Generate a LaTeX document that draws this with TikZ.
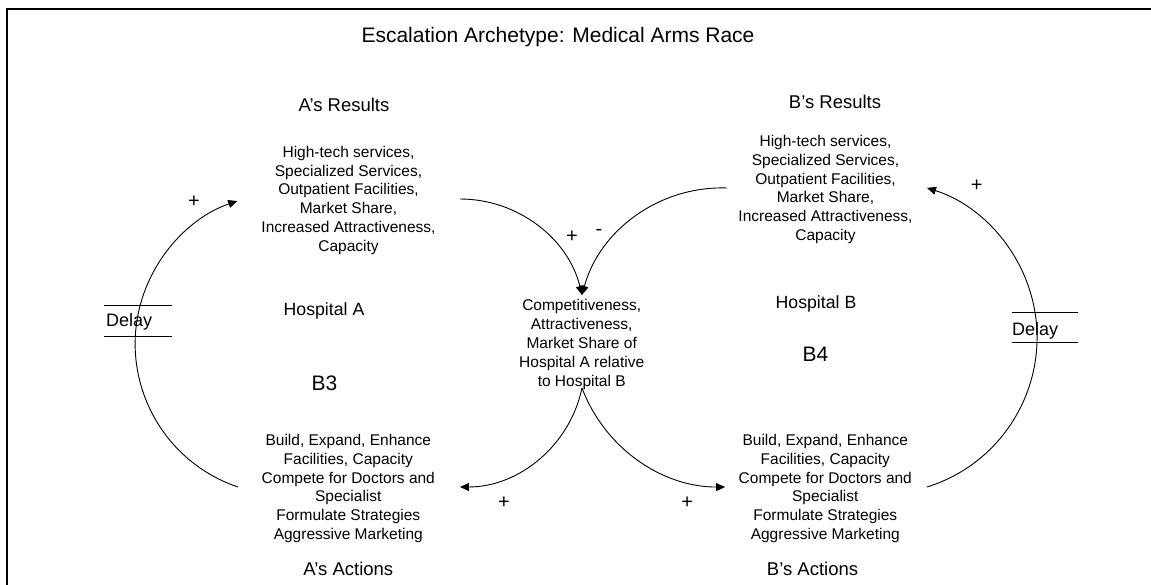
\documentclass[tikz,border=0pt]{standalone}
\usepackage{fontspec}
\setmainfont{Liberation Sans}
\usetikzlibrary{arrows.meta}

\tikzset{
  body/.style={inner sep=0pt, align=center, font=\fontsize{15.5}{18.8}\selectfont},
  head/.style={inner sep=0pt, anchor=base, font=\fontsize{18.5}{22}\selectfont},
  hosp/.style={inner sep=0pt, anchor=base, font=\fontsize{17.7}{21}\selectfont},
  loopid/.style={inner sep=0pt, anchor=base, font=\fontsize{21}{25}\selectfont},
  sign/.style={inner sep=0pt, font=\fontsize{20}{24}\selectfont},
  delaytxt/.style={inner sep=0pt, anchor=base west, font=\fontsize{18}{21}\selectfont},
  link/.style={line width=0.9pt, -{Triangle[length=9pt,width=8pt]}},
  thin/.style={line width=0.9pt},
  frame/.style={line width=2pt},
}

\begin{document}
\begin{tikzpicture}[x=1pt, y=-1pt]
  \useasboundingbox (0,0) rectangle (1151,585);

  % outer frame (top and left edges)
  \draw[frame] (7,600) -- (7,9) -- (1170,9);

  % title
  \node[inner sep=0pt, anchor=base, font=\fontsize{21}{25}\selectfont] (title) at (558,43) {Escalation Archetype: Medical Arms Race};

  % hospital A side
  \node[head] (aResHead) at (344,111.7) {A’s Results};
  \node[body] (aRes) at (348.5,200.3) {High-tech services,\\Specialized Services,\\Outpatient Facilities,\\Market Share,\\Increased Attractiveness,\\Capacity};
  \node[hosp] (hospA) at (324,316) {Hospital A};
  \node[loopid] (loopA) at (324.5,390) {B3};
  \node[body] (aAct) at (348.3,488.5) {Build, Expand, Enhance\\Facilities, Capacity\\Compete for Doctors and\\Specialist\\Formulate Strategies\\Aggressive Marketing};
  \node[head] (aActHead) at (348.3,575) {A’s Actions};

  % hospital B side
  \node[head] (bResHead) at (835,108.3) {B’s Results};
  \node[body] (bRes) at (825.5,189.5) {High-tech services,\\Specialized Services,\\Outpatient Facilities,\\Market Share,\\Increased Attractiveness,\\Capacity};
  \node[hosp] (hospB) at (816,308.3) {Hospital B};
  \node[loopid] (loopB) at (815.5,361.7) {B4};
  \node[body] (bAct) at (825.3,488.5) {Build, Expand, Enhance\\Facilities, Capacity\\Compete for Doctors and\\Specialist\\Formulate Strategies\\Aggressive Marketing};
  \node[head] (bActHead) at (812.5,575) {B’s Actions};

  % shared variable
  \node[body, font=\fontsize{15.5}{19}\selectfont] (rel) at (581.7,344.5) {Competitiveness,\\Attractiveness,\\Market Share of\\Hospital A relative\\to Hospital B};

  % connector end points
  \coordinate (aActL) at (238,487);
  \coordinate (bActR) at (927,487);
  \coordinate (aResR) at (460,199);
  \coordinate (bResL) at (727,188);
  \coordinate (relBot) at (582,388);

  % balancing loops
  \draw[link] (aActL) arc[start angle=108.6, end angle=251.1, radius=151];
  \draw[link] (bActR) arc[start angle=72.7, end angle=-72.7, radius=156.6];

  % results feeding the relative position
  \draw[link] (aResR) arc[start angle=270, end angle=346.4, radius=125.5];
  \draw[link] (bResL) arc[start angle=272, end angle=195.2, radius=145];

  % relative position driving actions
  \draw[link] (relBot) arc[start angle=11.9, end angle=90, radius=124.7];
  \draw[link] (relBot) arc[start angle=159.4, end angle=90, radius=152.8];

  % delay marks
  \draw[thin] (104,305) -- (171.7,305) (104,336.7) -- (171.7,336.7);
  \node[delaytxt] (delayA) at (106,326.7) {Delay};
  \draw[thin] (1011.7,312.3) -- (1078.3,312.3) (1011.7,342.7) -- (1078.3,342.7);
  \node[delaytxt] (delayB) at (1012,335) {Delay};

  % link polarities
  \node[sign] (pA) at (194,201.7) {+};
  \node[sign] (pB) at (976.7,186) {+};
  \node[sign] (pAR) at (572,237) {+};
  \node[sign] (mBR) at (599,232) {-};
  \node[sign] (pRA) at (504,502.7) {+};
  \node[sign] (pRB) at (687.3,502.3) {+};
\end{tikzpicture}
\end{document}
